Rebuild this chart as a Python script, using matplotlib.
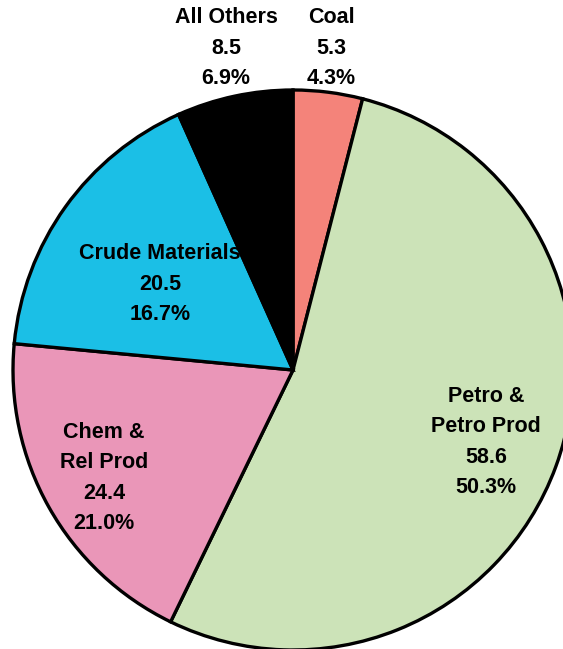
import matplotlib
matplotlib.use("Agg")
import matplotlib.pyplot as plt

categories = ["Coal", "Petro &\nPetro Prod", "Chem &\nRel Prod", "Crude Materials", "All Others"]
values = [5.3, 58.6, 24.4, 20.5, 8.5]
percents = [4.3, 50.3, 21.0, 16.7, 6.9]
# slice shares as drawn in the picture (degrees of arc / 3.6)
shares = [4.0, 53.2, 19.3, 16.8, 6.7]
colors = ["#F4837A", "#CCE3B8", "#EA96B8", "#1BBFE6", "#000000"]

plt.rcParams["font.family"] = ["Liberation Sans", "DejaVu Sans"]

fig = plt.figure(figsize=(5.63, 6.49), dpi=100)
ax = fig.add_axes([0, 0, 1, 1])

ax.pie(shares, colors=colors, startangle=90, counterclock=False,
       center=(293, 279), radius=280,
       wedgeprops=dict(edgecolor="black", linewidth=2.4))

ax.set_xlim(0, 563)
ax.set_ylim(0, 649)
ax.set_aspect("equal")
ax.axis("off")

# label anchor points (pixel coords, y measured from bottom)
label_pos = [(331, 601), (486, 207), (104, 171), (160, 365), (226, 601)]
for name, v, p, (x, y) in zip(categories, values, percents, label_pos):
    ax.text(x, y, f"{name}\n{v:.1f}\n{p:.1f}%", ha="center", va="center",
            fontsize=15.5, fontweight="bold", linespacing=1.57)

fig.savefig("out.png", dpi=100)
